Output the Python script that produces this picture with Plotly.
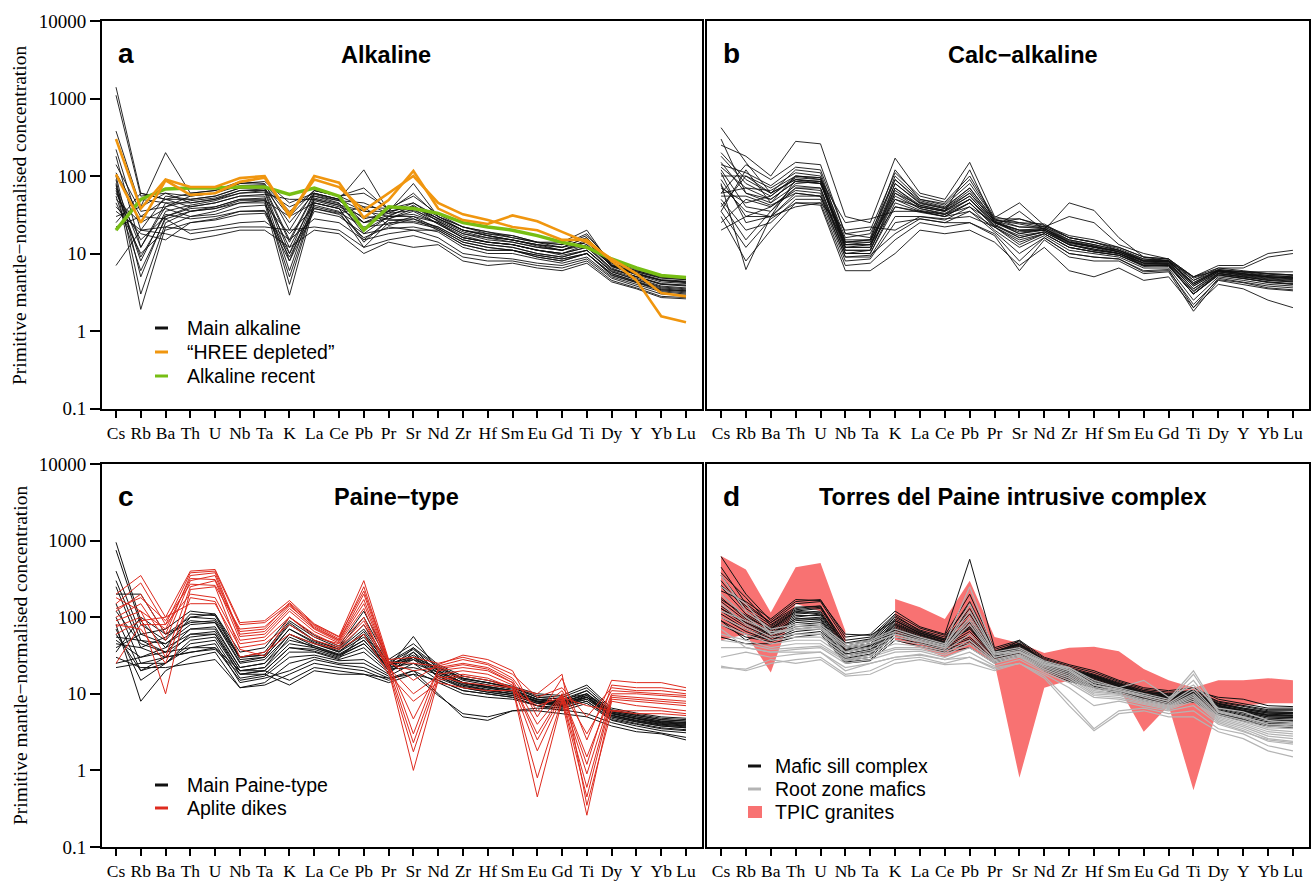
import plotly.graph_objects as go

ELEMENTS = ["Cs", "Rb", "Ba", "Th", "U", "Nb", "Ta", "K", "La", "Ce", "Pb", "Pr",
            "Sr", "Nd", "Zr", "Hf", "Sm", "Eu", "Gd", "Ti", "Dy", "Y", "Yb", "Lu"]
Y_TICKS = [0.1, 1, 10, 100, 1000, 10000]
Y_TICK_LABELS = ["0.1", "1", "10", "100", "1000", "10000"]

# ---------------- panel a : Alkaline ----------------
ALK_MAIN = [
    [1400, 60, 50, 50, 55, 70, 70, 25, 60, 50, 35, 35, 40, 28, 20, 17, 15, 13, 11, 13, 7, 5.5, 4.5, 4.3],
    [1100, 55, 60, 55, 60, 75, 75, 30, 65, 55, 40, 38, 45, 30, 22, 19, 16, 14, 12, 14, 7.5, 6, 5, 4.8],
    [380, 40, 200, 60, 65, 85, 80, 20, 65, 55, 60, 38, 55, 32, 22, 18, 17, 14, 13, 18, 7.5, 6, 5, 4.8],
    [220, 20, 55, 50, 55, 70, 72, 15, 60, 50, 25, 35, 40, 28, 20, 17, 15, 13, 12, 16, 7, 5.5, 4.5, 4.2],
    [180, 12, 45, 45, 50, 60, 65, 10, 55, 45, 18, 30, 30, 25, 17, 14, 13, 11, 10, 12, 6.5, 5, 4, 3.8],
    [140, 35, 40, 55, 60, 80, 85, 45, 60, 50, 120, 35, 80, 30, 20, 18, 16, 14, 14, 20, 7, 5.8, 4.8, 4.6],
    [100, 5, 30, 40, 45, 55, 55, 6, 50, 42, 20, 30, 32, 25, 16, 14, 13, 11, 9.5, 11, 6, 4.8, 3.8, 3.6],
    [90, 3, 25, 35, 40, 50, 50, 4, 45, 38, 15, 27, 28, 22, 15, 13, 12, 10, 9, 11, 5.8, 4.6, 3.6, 3.4],
    [80, 1.9, 22, 30, 35, 45, 45, 2.9, 42, 35, 12, 25, 25, 21, 14, 12, 11, 9.5, 8.5, 10, 5.5, 4.4, 3.5, 3.3],
    [70, 8, 35, 42, 48, 60, 62, 8, 52, 44, 25, 31, 40, 26, 18, 15, 14, 12, 11, 15, 6.8, 5.3, 4.3, 4.1],
    [60, 15, 30, 38, 40, 50, 52, 12, 48, 40, 30, 28, 35, 24, 16, 14, 13, 11, 10, 13, 6.3, 5, 4, 3.9],
    [50, 25, 38, 30, 32, 40, 42, 18, 40, 34, 22, 24, 30, 21, 14, 12, 11, 9.5, 8.5, 10, 5.5, 4.3, 3.4, 3.3],
    [45, 10, 20, 25, 27, 32, 33, 8, 35, 30, 18, 21, 22, 19, 12, 10, 10, 8.5, 7.5, 9, 5, 4, 3.2, 3.0],
    [35, 20, 22, 20, 22, 25, 26, 15, 28, 25, 15, 18, 20, 16, 10, 9, 8.5, 7.5, 7, 8.5, 4.8, 3.8, 3.0, 2.9],
    [30, 40, 60, 45, 50, 65, 65, 40, 55, 48, 45, 33, 45, 28, 20, 17, 15, 13, 12, 16, 7.2, 5.8, 4.9, 4.6],
    [25, 60, 50, 40, 45, 55, 58, 50, 50, 42, 35, 30, 42, 26, 18, 16, 14, 12, 11, 14, 6.8, 5.4, 4.5, 4.3],
    [22, 30, 28, 18, 20, 22, 22, 20, 22, 20, 12, 15, 17, 14, 9, 8, 8, 7, 6.5, 8, 4.5, 3.6, 2.8, 2.7],
    [7, 20, 18, 15, 17, 20, 20, 12, 20, 18, 10, 14, 12, 13, 8, 7, 7.5, 6.5, 6, 7.5, 4.3, 3.5, 2.7, 2.6],
    [40, 18, 15, 25, 28, 35, 35, 9, 38, 32, 16, 22, 20, 20, 13, 11, 11, 9, 8, 10, 5.2, 4.2, 3.3, 3.1],
    [110, 30, 50, 60, 65, 80, 78, 35, 65, 55, 70, 36, 60, 30, 22, 19, 17, 14, 13, 17, 8, 6.2, 5.2, 5],
    [55, 6, 28, 35, 38, 48, 48, 5, 45, 38, 14, 27, 26, 22, 15, 13, 12, 10, 9, 11, 5.8, 4.6, 3.7, 3.5],
    [75, 12, 40, 48, 52, 65, 68, 14, 58, 48, 28, 33, 36, 27, 19, 16, 15, 12.5, 11, 14, 7, 5.6, 4.6, 4.4],
    [20, 50, 45, 35, 38, 45, 48, 30, 45, 38, 25, 28, 38, 24, 16, 14, 13, 11, 10, 12, 6.2, 5, 4.1, 3.9],
    [65, 9, 32, 28, 30, 35, 36, 10, 38, 33, 40, 23, 28, 20, 13, 11, 11, 9, 8, 10, 5.3, 4.2, 3.4, 3.2],
]
ALK_HREE = [
    [300, 38, 90, 72, 72, 94, 100, 30, 100, 82, 29, 49, 116, 38, 27, 24, 31, 26, 19, 14, 8.5, 5.5, 3.1, 2.8],
    [105, 25, 88, 57, 60, 84, 95, 32, 90, 72, 36, 60, 100, 45, 32, 27, 22, 20, 15, 15, 8, 4.5, 1.55, 1.3],
]
ALK_RECENT = [
    [20, 50, 68, 70, 70, 72, 72, 58, 70, 55, 20, 40, 38, 33, 25, 22, 20, 17, 14, 12, 8.5, 6.5, 5.2, 4.9],
]

# ---------------- panel b : Calc-alkaline ----------------
CALC = [
    [420, 150, 60, 90, 80, 15, 15, 50, 40, 35, 50, 25, 20, 20, 14, 12, 11, 8, 8, 4, 6, 5.5, 5, 4.8],
    [250, 180, 100, 280, 260, 30, 25, 170, 60, 50, 150, 30, 25, 24, 16, 14, 12, 9, 8.5, 4.5, 6.5, 6, 5.5, 5.3],
    [200, 90, 60, 120, 110, 14, 15, 100, 50, 42, 80, 28, 22, 22, 15, 13, 11, 8, 8, 4, 6, 5.5, 5, 4.8],
    [150, 60, 45, 100, 95, 12, 12, 80, 45, 38, 60, 26, 18, 21, 14, 12, 10.5, 7.5, 7.5, 3.5, 5.8, 5.2, 4.8, 4.6],
    [120, 40, 35, 80, 85, 11, 11, 60, 38, 33, 50, 24, 16, 19, 13, 11, 10, 7, 7, 3, 5.5, 5, 4.5, 4.3],
    [100, 100, 70, 110, 100, 16, 18, 90, 48, 40, 70, 27, 25, 22, 16, 14, 11, 8.5, 8, 4.5, 6, 5.7, 5.2, 5],
    [90, 30, 40, 70, 65, 10, 10, 45, 35, 30, 45, 22, 15, 18, 12, 10.5, 9.5, 7, 6.8, 3, 5.3, 4.8, 4.2, 4.0],
    [80, 6.2, 30, 60, 55, 9, 9, 30, 30, 27, 40, 20, 12, 17, 11, 10, 9, 6.5, 6.5, 2.5, 5, 4.5, 4, 3.8],
    [70, 45, 55, 95, 90, 13, 14, 70, 42, 36, 60, 26, 20, 21, 14, 12.5, 10.5, 8, 7.8, 4, 6, 5.5, 5.2, 5],
    [60, 70, 50, 85, 80, 12, 13, 65, 40, 35, 55, 25, 18, 20, 13.5, 12, 10, 7.5, 7.5, 3.8, 5.8, 5.3, 5, 4.8],
    [50, 20, 25, 50, 50, 8, 8.5, 25, 28, 25, 35, 19, 10, 16, 10, 9, 8.5, 6, 6.2, 2, 4.8, 4.3, 3.8, 3.6],
    [40, 100, 60, 90, 85, 14, 14, 80, 44, 38, 65, 26, 22, 21, 14.5, 12.5, 10.5, 8, 7.8, 4.2, 6, 5.5, 5, 4.9],
    [35, 120, 45, 75, 70, 10, 11, 55, 38, 32, 50, 23, 17, 19, 13, 11.5, 10, 7.2, 7.2, 3.2, 5.5, 5, 4.6, 4.4],
    [30, 8, 20, 45, 45, 7, 7.5, 15, 25, 22, 25, 17, 6, 15, 9, 8, 8, 5.5, 5.8, 1.8, 4.5, 4, 3.5, 3.3],
    [25, 50, 40, 65, 60, 10, 10, 40, 34, 30, 45, 22, 14, 18, 12, 10.5, 9.5, 7, 7, 3, 5.3, 4.8, 4.3, 4.1],
    [20, 30, 30, 40, 45, 20, 22, 20, 30, 28, 30, 22, 35, 20, 45, 36, 16, 9, 8, 5, 6, 5.8, 5.8, 5.8],
    [180, 80, 55, 100, 90, 25, 28, 35, 35, 32, 40, 25, 28, 22, 30, 25, 13, 10, 8.5, 5, 7, 7, 10, 11],
    [140, 110, 75, 130, 120, 18, 20, 110, 55, 46, 100, 29, 45, 23, 17, 15, 12, 9, 8.5, 5, 6.5, 6.5, 9, 10],
    [110, 25, 30, 55, 55, 9, 9.5, 18, 28, 25, 25, 18, 8, 16, 10, 9, 8.5, 5.8, 6, 2.2, 4.6, 4.2, 3.6, 3.4],
    [60, 140, 90, 150, 140, 18, 16, 120, 50, 44, 90, 28, 28, 23, 16, 14, 11.5, 8.5, 8.2, 4.8, 6.2, 5.8, 5.5, 5.3],
    [45, 15, 35, 70, 70, 11, 11, 50, 36, 32, 45, 23, 16, 19, 13, 11, 10, 7.5, 7.2, 3.3, 5.5, 5, 4.5, 4.3],
    [300, 60, 50, 85, 80, 13, 13, 60, 42, 36, 55, 25, 19, 20, 13, 11.5, 10, 7.5, 7.5, 3.5, 5.6, 5.1, 4.7, 4.5],
    [75, 35, 30, 90, 85, 12, 12, 70, 40, 35, 120, 25, 20, 20, 14, 12, 10.5, 7.8, 7.5, 3.8, 5.8, 5.3, 4.9, 4.7],
    [55, 55, 42, 60, 55, 13, 13, 40, 35, 30, 35, 22, 13, 18, 12, 10.5, 9.5, 6.8, 7, 3, 5.2, 4.7, 4.3, 4.0],
    [35, 12, 28, 45, 42, 6, 6, 10, 20, 18, 20, 14, 7, 12, 6, 5, 6.5, 4.5, 5, 2, 4, 3.5, 2.5, 2],
    [130, 70, 65, 100, 95, 14, 15, 90, 46, 39, 70, 27, 24, 21, 15, 13, 11, 8.2, 8, 4.2, 6.2, 5.8, 5.4, 5.2],
]

# ---------------- panel c : Paine-type ----------------
PAINE_MAIN = [
    [950, 90, 40, 100, 110, 30, 32, 80, 50, 38, 70, 25, 30, 22, 16, 14, 12, 9, 8.5, 10, 6, 5.2, 4.6, 4.4],
    [750, 80, 50, 110, 105, 28, 30, 70, 48, 36, 60, 24, 28, 21, 15, 13, 11.5, 8.5, 8, 9.5, 5.8, 5, 4.4, 4.2],
    [400, 60, 45, 80, 85, 25, 28, 60, 45, 35, 55, 23, 35, 20, 14, 12.5, 11, 8.5, 7.8, 9, 5.6, 4.8, 4.2, 4.0],
    [300, 50, 35, 70, 75, 22, 25, 50, 42, 33, 50, 22, 25, 19, 13.5, 12, 10.5, 8, 7.5, 9, 5.5, 4.7, 4.1, 3.9],
    [250, 40, 30, 60, 65, 20, 22, 45, 40, 31, 45, 21, 22, 18, 13, 11.5, 10, 7.8, 7.2, 8.5, 5.3, 4.5, 4.0, 3.8],
    [150, 25, 25, 50, 55, 18, 20, 40, 38, 30, 40, 20, 40, 18, 13, 11, 10, 8, 7, 9, 5.2, 4.4, 3.9, 3.7],
    [100, 20, 25, 45, 50, 16, 18, 35, 35, 28, 35, 19, 30, 17, 12, 10.5, 9.5, 7.5, 6.8, 8.5, 5, 4.3, 3.8, 3.6],
    [80, 8, 20, 30, 35, 12, 14, 25, 30, 25, 25, 17, 25, 15, 11, 10, 9, 7, 6.5, 8, 4.8, 4.1, 3.6, 3.4],
    [60, 20, 30, 35, 40, 15, 17, 30, 32, 27, 28, 18, 35, 16, 12, 10.5, 9.5, 7.5, 7, 9, 5, 4.3, 3.8, 3.6],
    [50, 30, 40, 60, 60, 20, 22, 55, 40, 32, 50, 22, 56, 20, 14, 12.5, 11, 8.5, 8, 11, 5.8, 5, 4.4, 4.2],
    [45, 40, 55, 90, 85, 30, 35, 90, 55, 40, 100, 26, 40, 23, 16, 14, 12, 9.5, 9, 12, 6.2, 5.4, 4.8, 4.6],
    [40, 60, 70, 120, 110, 35, 40, 100, 58, 42, 120, 28, 45, 24, 17, 15, 12.5, 10, 9.5, 13, 6.5, 5.6, 5, 4.8],
    [35, 100, 60, 100, 95, 30, 32, 85, 50, 38, 80, 25, 38, 22, 15.5, 14, 12, 9, 8.5, 11, 6, 5.2, 4.6, 4.4],
    [30, 22, 22, 25, 28, 12, 13, 18, 25, 22, 20, 15, 20, 14, 10, 9, 8.5, 7, 6, 7.5, 4.5, 3.8, 3.3, 3.1],
    [25, 30, 35, 40, 40, 20, 20, 15, 22, 20, 18, 16, 20, 10, 5, 4.5, 6, 6.5, 6.2, 5.5, 4.2, 3.5, 3.1, 2.7],
    [22, 25, 30, 35, 38, 18, 18, 13, 20, 18, 18, 14, 18, 9.5, 5.5, 5, 6, 6, 5.5, 5, 3.8, 3.2, 3, 2.5],
    [120, 45, 35, 55, 60, 18, 20, 40, 36, 29, 60, 20, 28, 17, 12.5, 11, 10, 7.8, 7.2, 9.5, 5.2, 4.5, 4, 3.8],
    [200, 200, 60, 85, 90, 26, 30, 70, 46, 35, 65, 23, 32, 20, 14, 12.5, 11, 8.3, 7.8, 10, 5.6, 4.8, 4.3, 4.1],
    [70, 15, 25, 40, 45, 14, 16, 20, 28, 24, 22, 16, 18, 15, 11, 10, 9, 7, 6.5, 8, 4.6, 4, 3.5, 3.3],
    [55, 50, 45, 70, 70, 22, 25, 60, 42, 32, 45, 22, 30, 19, 14, 12, 10.5, 8, 7.5, 10, 5.5, 4.7, 4.2, 4.0],
]
APLITE = [
    [200, 350, 100, 400, 420, 85, 90, 165, 82, 56, 300, 28, 30, 25, 30, 25, 18, 9, 12, 5, 12, 11, 11, 10],
    [150, 280, 80, 380, 400, 80, 85, 150, 78, 52, 250, 26, 25, 23, 28, 24, 16, 6, 11, 3, 11, 10.5, 10, 9.5],
    [120, 200, 60, 350, 380, 60, 65, 140, 75, 50, 200, 25, 20, 22, 25, 22, 15, 4, 10, 1.5, 10, 10, 9.5, 9],
    [100, 150, 50, 300, 350, 56, 60, 130, 70, 48, 150, 24, 4.7, 20, 22, 20, 14, 2.5, 9.5, 0.9, 9.5, 9, 8.5, 8],
    [90, 120, 30, 250, 300, 50, 55, 120, 65, 46, 130, 22, 2.3, 18, 20, 18, 13, 1.8, 9, 0.6, 9, 8.5, 8, 7.5],
    [75, 100, 10, 230, 250, 38, 31, 100, 55, 45, 100, 20, 1.75, 16, 18, 16, 12, 0.8, 8.5, 0.45, 8.5, 8, 7.5, 7],
    [60, 90, 100, 150, 150, 40, 45, 80, 50, 40, 80, 20, 1.0, 15, 17, 15, 12, 0.45, 8, 0.26, 8, 7, 6.5, 6],
    [25, 80, 80, 200, 180, 45, 50, 100, 60, 42, 90, 22, 10, 17, 14, 13, 12, 10, 18, 0.35, 6, 6, 6, 5.5],
    [180, 120, 70, 320, 310, 65, 70, 155, 80, 55, 220, 27, 15, 24, 32, 28, 20, 5, 16, 2.5, 15, 14, 14, 12],
    [80, 70, 25, 180, 160, 30, 35, 60, 45, 38, 60, 18, 8, 14, 12, 11, 11, 7, 9, 7, 6, 5.5, 5.5, 5.2],
    [130, 180, 90, 270, 260, 70, 75, 145, 72, 50, 170, 25, 3, 21, 24, 21, 14, 3, 10, 1.2, 13, 12, 12, 11],
]

# ---------------- panel d : Torres del Paine intrusive complex ----------------
MAFIC_SILL = [
    [620, 200, 90, 160, 170, 55, 60, 120, 75, 60, 570, 40, 50, 30, 24, 20, 15, 12, 11, 12, 8.5, 7.5, 6.5, 6.5],
    [450, 150, 85, 150, 160, 50, 55, 110, 72, 58, 200, 38, 48, 29, 23, 19, 14.5, 11.5, 10.5, 11, 8, 7, 6.2, 6.2],
    [350, 130, 80, 130, 140, 45, 50, 100, 68, 55, 150, 36, 46, 28, 22, 18, 14, 11, 10, 11, 7.8, 6.8, 6, 6],
    [300, 120, 75, 120, 130, 42, 48, 95, 65, 52, 120, 35, 45, 27, 21, 17.5, 13.5, 10.5, 9.8, 10.5, 7.5, 6.5, 5.8, 5.7],
    [250, 110, 72, 115, 120, 40, 45, 90, 63, 50, 100, 34, 44, 27, 20, 17, 13, 10.5, 9.5, 10, 7.3, 6.3, 5.6, 5.5],
    [200, 100, 70, 110, 115, 38, 43, 85, 60, 48, 90, 33, 43, 26, 19.5, 16.5, 12.8, 10, 9.3, 10, 7.1, 6.1, 5.4, 5.3],
    [180, 95, 65, 100, 110, 36, 40, 80, 58, 47, 80, 32, 42, 25, 19, 16, 12.5, 10, 9, 9.5, 7, 6, 5.2, 5.1],
    [160, 90, 62, 95, 100, 35, 40, 78, 56, 46, 75, 32, 41, 25, 18.5, 15.5, 12.3, 9.8, 8.8, 9.5, 6.8, 5.8, 5, 4.9],
    [140, 85, 60, 90, 95, 33, 38, 75, 55, 45, 70, 31, 40, 24, 18, 15, 12, 9.5, 8.6, 9.3, 6.6, 5.6, 4.8, 4.7],
    [130, 80, 58, 85, 90, 32, 36, 70, 53, 43, 65, 30, 39, 24, 17.5, 14.5, 11.8, 9.3, 8.4, 9, 6.4, 5.4, 4.6, 4.5],
    [120, 75, 55, 80, 85, 30, 35, 68, 52, 42, 60, 30, 38, 23, 17, 14, 11.5, 9, 8.2, 8.8, 6.2, 5.2, 4.5, 4.4],
    [110, 70, 53, 75, 80, 29, 33, 65, 50, 41, 55, 29, 37, 23, 16.5, 13.5, 11.2, 8.8, 8, 8.6, 6, 5, 4.3, 4.2],
    [100, 65, 50, 70, 75, 28, 32, 62, 48, 40, 52, 28, 36, 22, 16, 13, 11, 8.6, 7.8, 8.4, 5.8, 4.8, 4.1, 4.0],
    [90, 60, 50, 65, 70, 27, 30, 60, 47, 38, 48, 27, 35, 22, 15.5, 13, 10.8, 8.5, 7.6, 8.2, 5.6, 4.7, 4, 3.9],
    [80, 55, 48, 60, 65, 26, 28, 55, 45, 37, 45, 26, 34, 21, 15, 12.5, 10.5, 8.3, 7.4, 8, 5.5, 4.6, 3.9, 3.8],
    [220, 160, 95, 170, 165, 60, 58, 90, 62, 50, 110, 35, 44, 27, 21, 17, 13.5, 11, 10, 10.5, 7.5, 6.5, 5.8, 5.7],
    [90, 50, 70, 120, 110, 45, 50, 60, 52, 43, 75, 32, 50, 25, 20, 17, 13, 10.5, 9.5, 11, 9, 8.5, 7, 6.8],
    [260, 140, 85, 135, 140, 40, 45, 90, 62, 50, 130, 34, 38, 26, 20, 16.5, 13, 10, 9.2, 9.8, 7, 6, 5.3, 5.2],
    [170, 105, 68, 105, 105, 37, 42, 82, 59, 47, 85, 32, 30, 25, 19, 16, 12.5, 9.8, 9, 9.5, 6.9, 5.9, 5.2, 5.1],
    [380, 180, 78, 125, 135, 46, 52, 105, 66, 52, 160, 36, 45, 27, 21, 17.5, 13.5, 10.5, 9.6, 10.2, 7.4, 6.3, 5.6, 5.5],
    [55, 45, 45, 55, 60, 25, 27, 50, 42, 35, 40, 25, 33, 20, 14.5, 12, 10, 8, 7.2, 7.8, 5.3, 4.4, 3.8, 3.6],
    [130, 85, 60, 95, 95, 33, 37, 72, 54, 44, 72, 31, 40, 24, 18, 15, 12, 9.6, 8.7, 9.2, 6.7, 5.7, 5, 4.9],
]
ROOT_ZONE = [
    [350, 120, 70, 80, 80, 45, 50, 70, 55, 45, 250, 35, 40, 27, 22, 14, 12, 10, 8.5, 20, 6, 5, 4, 4],
    [200, 100, 60, 70, 70, 40, 45, 60, 50, 42, 150, 33, 38, 26, 21, 13, 11.5, 9.5, 8, 15, 5.7, 4.8, 3.8, 3.7],
    [150, 80, 55, 60, 60, 35, 40, 55, 48, 40, 100, 32, 36, 25, 20, 12, 11, 9, 7.5, 12, 5.4, 4.5, 3.6, 3.5],
    [100, 70, 50, 55, 55, 32, 37, 50, 45, 38, 80, 30, 35, 24, 19, 11.5, 10.5, 8.5, 7.2, 11, 5.2, 4.3, 3.4, 3.2],
    [80, 60, 45, 50, 50, 30, 35, 45, 42, 36, 60, 28, 33, 23, 18, 11, 10, 8.2, 7, 10, 5, 4.1, 3.2, 3.0],
    [60, 50, 40, 45, 45, 28, 32, 40, 40, 34, 50, 27, 32, 22, 17, 10.5, 9.8, 8, 6.8, 9.5, 4.8, 3.9, 3, 2.8],
    [50, 45, 38, 40, 42, 27, 30, 38, 38, 32, 45, 26, 31, 21, 16, 10, 9.5, 7.8, 6.6, 9, 4.6, 3.7, 2.8, 2.6],
    [40, 40, 35, 38, 40, 25, 28, 35, 36, 30, 40, 25, 30, 20, 15, 9.5, 9, 7.5, 6.4, 8.5, 4.4, 3.5, 2.6, 2.4],
    [30, 35, 30, 33, 35, 22, 25, 30, 33, 28, 35, 23, 28, 19, 14, 9, 8.5, 7.2, 6.2, 8, 4.2, 3.3, 2.4, 2.2],
    [23, 20, 25, 28, 30, 18, 20, 28, 30, 25, 30, 21, 25, 17, 8, 3.5, 6, 6.5, 5.5, 6, 3.5, 3.0, 2.1, 1.8],
    [22, 21, 28, 25, 28, 17, 18, 25, 28, 24, 25, 20, 25, 16, 7, 3.3, 5.5, 6, 5, 5, 3.2, 2.6, 1.8, 1.5],
    [120, 90, 65, 70, 75, 35, 45, 60, 48, 40, 90, 30, 35, 24, 22, 15, 12, 15, 9, 13, 6.5, 5.8, 4.5, 4.2],
    [250, 150, 60, 75, 75, 42, 48, 65, 52, 43, 120, 34, 35, 26, 20, 13, 11, 9.5, 8, 18, 5.8, 5, 4, 3.8],
    [70, 40, 35, 35, 35, 20, 25, 30, 32, 28, 30, 22, 25, 18, 12, 7, 8, 6.8, 6, 7, 4.0, 3.2, 2.5, 2.3],
]
TPIC_UPPER = [630, 420, 115, 450, 510, 66, None, 173, 135, 95, 300, 55, 46, 34, 40, 41, 36, 21, 15, 12, 15, 15, 16, 15]
TPIC_LOWER = [50, 60, 19, 150, 120, 35, None, 50, 40, 30, 40, 25, 0.8, 12, 15, 15, 12, 3.2, 7, 0.55, 7, 7, 7.5, 7.5]

# ---------------- layout helpers ----------------
W, H = 1314, 883
def px(x):
    return x / W
def py(y):
    return 1 - y / H

BLACK = "#111111"
ORANGE = "#F0960F"
GREEN = "#77BE14"
RED = "#DE2B1F"
GRAY = "#B4B4B4"
BAND = "#F87272"

PANELS = {
    "a": dict(x0=102, x1=702, y0=21, y1=408.5, ax=""),
    "b": dict(x0=707, x1=1309, y0=21, y1=408.5, ax="2"),
    "c": dict(x0=102, x1=702, y0=464, y1=847, ax="3"),
    "d": dict(x0=707, x1=1309, y0=464, y1=847, ax="4"),
}

fig = go.Figure()
X = list(range(len(ELEMENTS)))


def add_lines(panel, rows, color, width):
    ax = PANELS[panel]["ax"]
    for r in rows:
        fig.add_trace(go.Scatter(x=X, y=r, mode="lines",
                                 line=dict(color=color, width=width),
                                 xaxis="x" + ax, yaxis="y" + ax,
                                 showlegend=False, hoverinfo="skip"))


def add_band(panel, upper, lower, color):
    ax = PANELS[panel]["ax"]
    seg = []
    segments = []
    for i, (u, l) in enumerate(zip(upper, lower)):
        if u is None or l is None:
            if seg:
                segments.append(seg)
            seg = []
        else:
            seg.append(i)
    if seg:
        segments.append(seg)
    for s in segments:
        xs = [X[i] for i in s] + [X[i] for i in reversed(s)]
        ys = [upper[i] for i in s] + [lower[i] for i in reversed(s)]
        fig.add_trace(go.Scatter(x=xs, y=ys, mode="lines", fill="toself",
                                 fillcolor=color, line=dict(width=0, color=color),
                                 xaxis="x" + ax, yaxis="y" + ax,
                                 showlegend=False, hoverinfo="skip"))


add_lines("a", ALK_MAIN, BLACK, 0.9)
add_lines("a", ALK_RECENT, GREEN, 3.5)
add_lines("a", ALK_HREE, ORANGE, 2.6)

add_lines("b", CALC, BLACK, 0.9)

add_lines("c", PAINE_MAIN, BLACK, 1.0)
add_lines("c", APLITE, RED, 1.0)

add_band("d", TPIC_UPPER, TPIC_LOWER, BAND)
add_lines("d", MAFIC_SILL, BLACK, 1.0)
add_lines("d", ROOT_ZONE, GRAY, 1.2)

serif = "Liberation Serif, Times New Roman, serif"
sans = "Liberation Sans, Arial, Helvetica, sans-serif"

layout = dict(width=W, height=H, margin=dict(l=0, r=0, t=0, b=0, autoexpand=False),
              paper_bgcolor="white", plot_bgcolor="white", showlegend=False,
              template="none")

for name, p in PANELS.items():
    ax = p["ax"]
    left = name in ("a", "c")
    layout["xaxis" + ax] = dict(
        domain=[px(p["x0"]), px(p["x1"])], anchor="y" + ax, automargin=False,
        range=[-0.565, 23.646], tickmode="array", tickvals=X, ticktext=ELEMENTS,
        ticks="outside", ticklen=7, tickwidth=2, tickcolor="black",
        showline=True, mirror=True, linewidth=2, linecolor="black",
        showgrid=False, zeroline=False,
        tickfont=dict(family=serif, size=17.5, color="black"), tickangle=0)
    layout["yaxis" + ax] = dict(
        domain=[py(p["y1"]), py(p["y0"])], anchor="x" + ax, type="log", automargin=False,
        range=[-1, 4], tickmode="array", tickvals=Y_TICKS, ticktext=Y_TICK_LABELS,
        ticks="outside" if left else "", ticklen=10, tickwidth=2, tickcolor="black",
        showticklabels=left,
        showline=True, mirror=True, linewidth=2, linecolor="black",
        showgrid=False, zeroline=False,
        tickfont=dict(family=serif, size=19, color="black"))

fig.update_layout(**layout)

annotations = []
shapes = []


def text(x, y, s, size, family=sans, bold=False, xanchor="left", angle=0):
    annotations.append(dict(x=px(x), y=py(y), xref="paper", yref="paper",
                            text=("<b>%s</b>" % s) if bold else s,
                            showarrow=False, xanchor=xanchor, yanchor="middle",
                            textangle=angle,
                            font=dict(family=family, size=size, color="black")))

# panel letters and titles
text(116, 54, "a", 28, bold=True)
text(386, 55, "Alkaline", 23.5, bold=True, xanchor="center")
text(721, 54, "b", 28, bold=True)
text(1023, 55, "Calc\u2212alkaline", 23.5, bold=True, xanchor="center")
text(116, 496, "c", 28, bold=True)
text(396, 497, "Paine\u2212type", 23.5, bold=True, xanchor="center")
text(721, 496, "d", 28, bold=True)
text(1012, 497, "Torres del Paine intrusive complex", 23.5, bold=True, xanchor="center")

# y-axis titles
for yc in (216, 656):
    text(20, yc, "Primitive mantle\u2212normalised concentration", 19.5,
         family=serif, xanchor="center", angle=-90)


def legend_line(x, y, color, label, width=3, tx=30):
    shapes.append(dict(type="line", xref="paper", yref="paper",
                       x0=px(x), x1=px(x + 13), y0=py(y), y1=py(y),
                       line=dict(color=color, width=width)))
    text(x + tx, y, label, 19.5)


legend_line(155, 328, BLACK, "Main alkaline")
legend_line(155, 352, ORANGE, "\u201cHREE depleted\u201d")
legend_line(155, 376, GREEN, "Alkaline recent")

legend_line(155, 785, BLACK, "Main Paine-type")
legend_line(155, 808, RED, "Aplite dikes")

legend_line(748, 766, BLACK, "Mafic sill complex", tx=25)
legend_line(748, 789, GRAY, "Root zone mafics", tx=25)
shapes.append(dict(type="rect", xref="paper", yref="paper",
                   x0=px(748), x1=px(762), y0=py(818), y1=py(806),
                   fillcolor=BAND, line=dict(width=0)))
text(773, 812, "TPIC granites", 19.5)

fig.update_layout(annotations=annotations, shapes=shapes)
fig.write_html("out.html")
